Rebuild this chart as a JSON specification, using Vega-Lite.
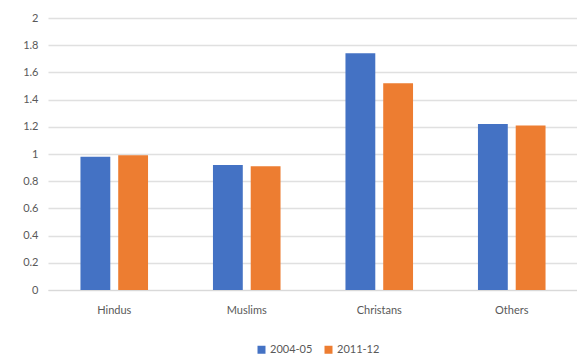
{
  "$schema": "https://vega.github.io/schema/vega-lite/v6.json",
  "width": 530,
  "height": 272,
  "autosize": {"type": "none"},
  "padding": {"left": 48, "top": 18, "right": 0, "bottom": 68},
  "background": "white",
  "config": {
    "view": {"stroke": null},
    "font": "Lato",
    "axis": {"labelFont": "Lato", "labelColor": "#595959", "labelFontSize": 11},
    "legend": {"labelFont": "Lato", "labelColor": "#595959", "labelFontSize": 11}
  },
  "data": {
    "values": [
      {"religion": "Hindus", "period": "2004-05", "value": 0.98},
      {"religion": "Hindus", "period": "2011-12", "value": 0.99},
      {"religion": "Muslims", "period": "2004-05", "value": 0.92},
      {"religion": "Muslims", "period": "2011-12", "value": 0.91},
      {"religion": "Christans", "period": "2004-05", "value": 1.74},
      {"religion": "Christans", "period": "2011-12", "value": 1.52},
      {"religion": "Others", "period": "2004-05", "value": 1.22},
      {"religion": "Others", "period": "2011-12", "value": 1.21}
    ]
  },
  "mark": {"type": "bar"},
  "encoding": {
    "x": {
      "field": "religion", "type": "nominal",
      "sort": ["Hindus", "Muslims", "Christans", "Others"],
      "scale": {"paddingInner": 0.49, "paddingOuter": 0.245},
      "axis": {"title": null, "labelAngle": 0, "ticks": false, "domainColor": "#d9d9d9", "labelPadding": 14, "grid": false}
    },
    "xOffset": {"field": "period", "type": "nominal", "scale": {"paddingInner": 0.21}},
    "y": {
      "field": "value", "type": "quantitative",
      "scale": {"domain": [0, 2]},
      "axis": {"title": null, "values": [0, 0.2, 0.4, 0.6, 0.8, 1, 1.2, 1.4, 1.6, 1.8, 2], "format": ".1~f", "domain": false, "ticks": false, "labelPadding": 10, "gridColor": "#e0e0e0", "gridWidth": 1.5}
    },
    "color": {
      "field": "period", "type": "nominal",
      "scale": {"domain": ["2004-05", "2011-12"], "range": ["#4472C4", "#ED7D31"]},
      "legend": {"title": null, "orient": "none", "legendX": 208, "legendY": 326, "direction": "horizontal", "symbolType": "square", "symbolSize": 64, "symbolStrokeWidth": 0, "columnPadding": 10, "labelOffset": 3}
    }
  }
}
